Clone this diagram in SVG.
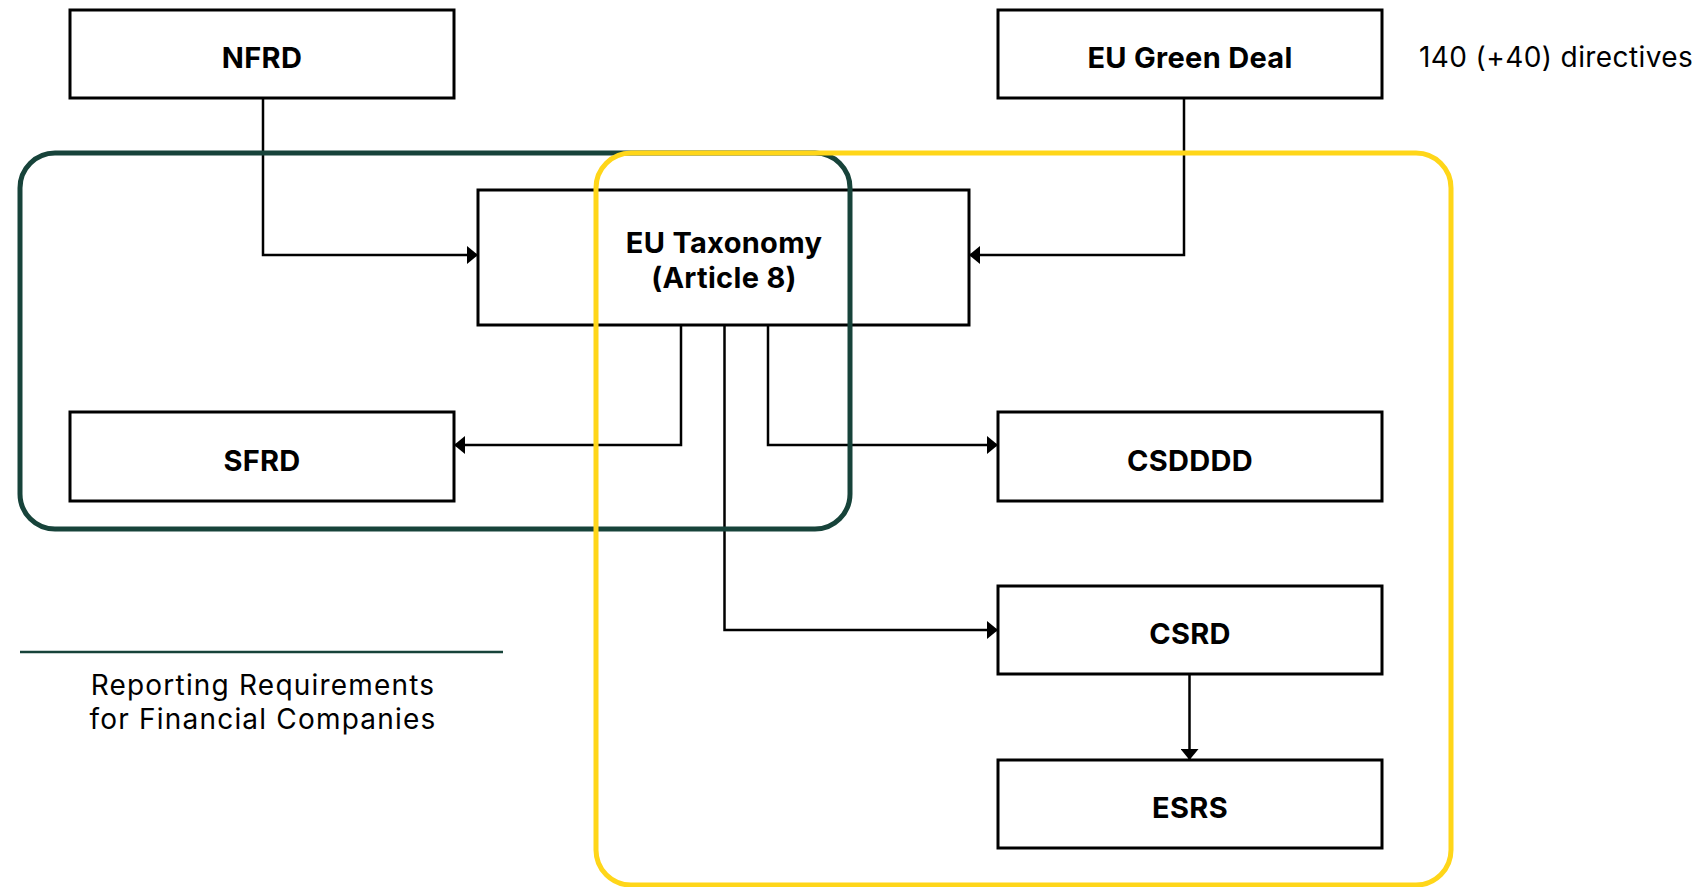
<svg xmlns="http://www.w3.org/2000/svg" width="1703" height="887" viewBox="0 0 1703 887">
<style>
.box{fill:none;stroke:#000;stroke-width:3}
.lbl{font-family:Inter,"Liberation Sans",sans-serif;font-weight:700;font-size:29px;letter-spacing:0.3px;fill:#000;text-anchor:middle}
.plain{font-family:Inter,"Liberation Sans",sans-serif;font-weight:400;font-size:28px;fill:#000}
.conn{fill:none;stroke:#000;stroke-width:2.5}
</style>
<defs>
<marker id="arr" viewBox="0 0 11 18" refX="11" refY="9" markerWidth="11" markerHeight="18" markerUnits="userSpaceOnUse" orient="auto">
<path d="M0,0 L11,9 L0,18 Z" fill="#000"/>
</marker>
</defs>
<rect width="1703" height="887" fill="#fff"/>
<g id="nfrd"><rect class="box" x="70" y="10" width="384" height="88"/><text class="lbl" x="262" y="68">NFRD</text></g>
<g id="green-deal"><rect class="box" x="998" y="10" width="384" height="88"/><text class="lbl" x="1190" y="68">EU Green Deal</text></g>
<g id="directives-note"><text class="plain" x="1419" y="67" letter-spacing="0.4">140 (+40) directives</text></g>
<g id="taxonomy"><rect class="box" x="478" y="190" width="491" height="135"/><text class="lbl" x="724" y="253">EU Taxonomy</text><text class="lbl" x="724" y="288">(Article 8)</text></g>
<g id="sfrd"><rect class="box" x="70" y="412" width="384" height="89"/><text class="lbl" x="262" y="471">SFRD</text></g>
<g id="csdddd"><rect class="box" x="998" y="412" width="384" height="89"/><text class="lbl" x="1190" y="471">CSDDDD</text></g>
<g id="csrd"><rect class="box" x="998" y="586" width="384" height="88"/><text class="lbl" x="1190" y="644">CSRD</text></g>
<g id="esrs"><rect class="box" x="998" y="760" width="384" height="88"/><text class="lbl" x="1190" y="818">ESRS</text></g>
<g id="connectors">
<path class="conn" d="M263,98 V255 H478" marker-end="url(#arr)"/>
<path class="conn" d="M1184,98 V255 H969" marker-end="url(#arr)"/>
<path class="conn" d="M681,325 V445 H454" marker-end="url(#arr)"/>
<path class="conn" d="M768,325 V445 H998" marker-end="url(#arr)"/>
<path class="conn" d="M724.5,325 V630 H998" marker-end="url(#arr)"/>
<path class="conn" d="M1189.5,674 V760" marker-end="url(#arr)"/>
</g>
<g id="financial-group">
<rect x="20" y="153" width="830" height="376" rx="35" fill="none" stroke="#17433a" stroke-width="5"/>
</g>
<g id="nonfinancial-group">
<rect x="596" y="153" width="855" height="732" rx="35" fill="none" stroke="#ffd619" stroke-width="5"/>
</g>
<g id="legend">
<line x1="20" y1="652" x2="503" y2="652" stroke="#17433a" stroke-width="2.5"/>
<text class="plain" x="263" y="695" text-anchor="middle" letter-spacing="1.2">Reporting Requirements</text>
<text class="plain" x="263" y="729" text-anchor="middle" letter-spacing="1.2">for Financial Companies</text>
</g>
</svg>
